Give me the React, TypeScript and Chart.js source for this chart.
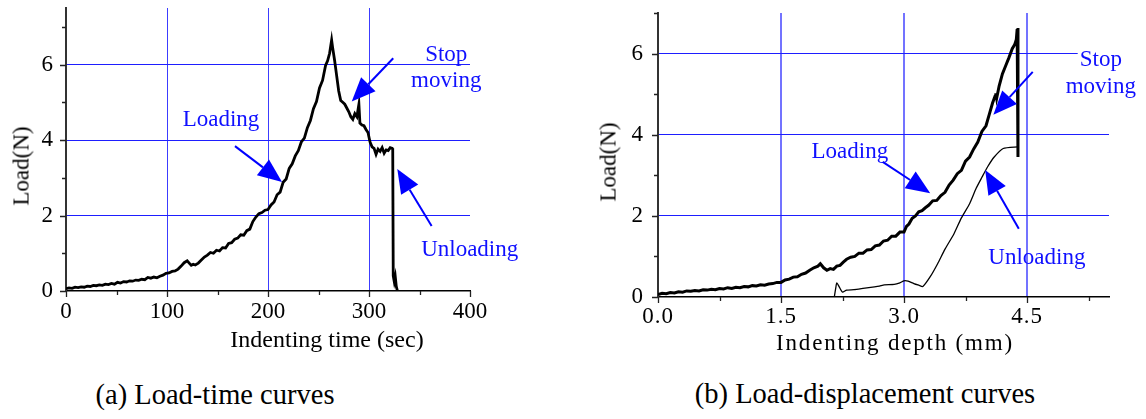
import React, { useEffect, useRef } from 'react';
import { Chart, registerables } from 'chart.js';

Chart.register(...registerables);

const SERIF = '"Liberation Serif", "Times New Roman", serif';

// ---------- (a) Load-time data ----------
const timeSec = [0,3,6,9,12,15,18,21,24,27,30,33,36,39,42,45,48,51,54,57,60,63,66,69,72,75,78,81,84,87,90,93,96,99,102,105,108,111,114,117,120,122,124,126,128,131,134,137,140,143,146,149,152,155,158,161,164,167,170,173,176,179,182,185,188,191,194,197,200,203,206,209,212,215,218,221,224,227,230,233,236,239,242,245,248,251,254,257,259,261,263,264,266,268,270,272,274,276,278,280,282,284,286,288,290,291,293,295,297,299,301,303,305,307,309,311,313,315,317,319,321,323,323.5,324,325,326,327,328];
const loadTime = [0.06,0.08,0.07,0.10,0.09,0.11,0.10,0.13,0.12,0.15,0.14,0.16,0.15,0.18,0.17,0.20,0.18,0.23,0.21,0.25,0.24,0.27,0.26,0.29,0.28,0.31,0.30,0.36,0.34,0.37,0.35,0.39,0.42,0.47,0.48,0.52,0.53,0.58,0.66,0.75,0.80,0.74,0.68,0.71,0.69,0.74,0.82,0.90,0.95,1.02,1.00,1.08,1.06,1.15,1.14,1.26,1.28,1.37,1.40,1.49,1.48,1.60,1.64,1.84,1.96,2.05,2.08,2.14,2.16,2.28,2.36,2.55,2.62,2.88,2.97,3.25,3.37,3.58,3.72,3.95,4.05,4.33,4.52,4.83,5.02,5.38,5.58,5.98,6.10,6.30,6.65,6.45,6.10,5.70,5.30,5.05,5.00,4.95,4.85,4.75,4.62,4.55,4.70,4.62,4.95,4.45,4.40,4.38,4.28,4.20,3.95,3.82,3.78,3.62,3.76,3.70,3.80,3.65,3.74,3.72,3.80,3.78,3.75,0.40,0.25,0.38,0.12,0.02];

// ---------- (b) Load-displacement data ----------
const depthLoad = [0,0.05,0.10,0.15,0.20,0.25,0.30,0.35,0.40,0.45,0.50,0.55,0.60,0.65,0.70,0.75,0.80,0.85,0.90,0.95,1.00,1.05,1.10,1.15,1.20,1.25,1.30,1.35,1.40,1.45,1.50,1.55,1.60,1.65,1.70,1.75,1.80,1.85,1.90,1.95,1.98,2.02,2.06,2.10,2.14,2.18,2.22,2.26,2.30,2.35,2.40,2.45,2.50,2.55,2.60,2.65,2.70,2.75,2.80,2.85,2.90,2.95,3.00,3.03,3.06,3.10,3.14,3.18,3.22,3.26,3.30,3.35,3.40,3.45,3.50,3.55,3.60,3.65,3.70,3.75,3.80,3.85,3.90,3.95,4.00,4.04,4.08,4.11,4.12,4.13,4.16,4.20,4.24,4.28,4.32,4.35,4.37,4.38,4.39,4.39];
const loadLoad = [0.06,0.09,0.08,0.11,0.10,0.13,0.12,0.15,0.14,0.16,0.15,0.18,0.17,0.19,0.18,0.21,0.20,0.23,0.21,0.24,0.23,0.26,0.25,0.28,0.27,0.30,0.29,0.32,0.33,0.36,0.36,0.42,0.44,0.49,0.50,0.56,0.59,0.66,0.72,0.76,0.82,0.72,0.66,0.70,0.68,0.76,0.78,0.86,0.93,0.98,1.00,1.08,1.08,1.16,1.17,1.26,1.28,1.38,1.40,1.50,1.50,1.60,1.60,1.74,1.80,1.94,2.00,2.10,2.13,2.20,2.26,2.37,2.38,2.50,2.58,2.76,2.88,3.04,3.12,3.35,3.45,3.65,3.82,4.08,4.22,4.50,4.78,4.95,5.02,4.90,5.20,5.50,5.70,5.90,6.12,6.22,6.35,6.60,6.63,3.45];
const depthUnload = [4.39,4.21,4.10,4.02,3.95,3.88,3.80,3.70,3.61,3.50,3.41,3.32,3.23,3.18,3.12,3.05,3.00,2.95,2.88,2.76,2.70,2.64,2.50,2.39,2.30,2.25,2.21,2.18,2.17,2.15];
const loadUnload = [3.70,3.66,3.45,3.21,2.95,2.68,2.30,1.95,1.56,1.18,0.82,0.50,0.26,0.29,0.33,0.39,0.40,0.35,0.31,0.30,0.27,0.25,0.21,0.18,0.17,0.12,0.25,0.35,0.25,0.00];

// ---------- axis ticks ----------
const loadTicksMajor = [0, 2, 4, 6];
const timeTicksMajor = [0, 100, 200, 300, 400];
const depthTicksMajor = [0, 1.5, 3.0, 4.5];

// ---------- annotations (data coordinates) ----------
const annTextA = [
  { x: 153.5, y: 4.53, lines: ['Loading'] },
  { x: 376.5, y: 5.91, lines: ['Stop', 'moving'] },
  { x: 399.7, y: 1.09, lines: ['Unloading'] },
];
const annArrowA = [
  { x0: 167.3, y0: 3.84, x1: 213.9, y1: 2.89 },
  { x0: 324, y0: 6.17, x1: 282.9, y1: 5.02 },
  { x0: 362, y0: 1.72, x1: 328, y1: 3.23 },
];
const annTextB = [
  { x: 2.34, y: 3.57, lines: ['Loading'] },
  { x: 5.40, y: 5.51, lines: ['Stop', 'moving'], bg: true },
  { x: 4.62, y: 0.96, lines: ['Unloading'] },
];
const annArrowB = [
  { x0: 2.74, y0: 3.33, x1: 3.32, y1: 2.56 },
  { x0: 4.57, y0: 5.55, x1: 4.09, y1: 4.49 },
  { x0: 4.40, y0: 1.68, x1: 3.99, y1: 3.13 },
];

const BLUE_TXT = '#1010ff';
const near = (v: number, arr: number[]) => arr.some((a) => Math.abs(a - v) < 1e-6);

function tickMarksPlugin(xMajor: number[], yMajor: number[]) {
  return {
    id: 'tickMarks',
    afterDraw(chart: any) {
      const { ctx, chartArea: a } = chart;
      const xs = chart.scales.x;
      const ys = chart.scales.y;
      ctx.save();
      ctx.strokeStyle = '#222';
      ctx.lineWidth = 1.3;
      ctx.beginPath();
      xs.ticks.forEach((t: any) => {
        const px = Math.round(xs.getPixelForValue(t.value)) + 0.5;
        const len = near(t.value, xMajor) ? 6 : 4;
        ctx.moveTo(px, a.bottom);
        ctx.lineTo(px, a.bottom + len);
      });
      ys.ticks.forEach((t: any) => {
        const py = Math.round(ys.getPixelForValue(t.value)) + 0.5;
        const len = near(t.value, yMajor) ? 6 : 4;
        ctx.moveTo(a.left, py);
        ctx.lineTo(a.left - len, py);
      });
      ctx.stroke();
      ctx.restore();
    },
  };
}

function annotationPlugin(texts: any[], arrows: any[], gap: number) {
  return {
    id: 'annot',
    afterDraw(chart: any) {
      const { ctx } = chart;
      const xs = chart.scales.x;
      const ys = chart.scales.y;
      ctx.save();
      ctx.letterSpacing = '0px';
      ctx.font = `23px ${SERIF}`;
      ctx.textAlign = 'center';
      ctx.textBaseline = 'middle';
      texts.forEach((t) => {
        const cx = xs.getPixelForValue(t.x);
        const cy = ys.getPixelForValue(t.y);
        const n = t.lines.length;
        t.lines.forEach((line: string, i: number) => {
          const ly = cy + (i - (n - 1) / 2) * gap;
          if (t.bg) {
            const w = ctx.measureText(line).width;
            ctx.fillStyle = '#fff';
            ctx.fillRect(cx - w / 2 - 2, ly - 12, w + 4, 24);
          }
          ctx.fillStyle = BLUE_TXT;
          ctx.fillText(line, cx, ly);
        });
      });
      arrows.forEach((ar) => {
        const x0 = xs.getPixelForValue(ar.x0);
        const y0 = ys.getPixelForValue(ar.y0);
        const x1 = xs.getPixelForValue(ar.x1);
        const y1 = ys.getPixelForValue(ar.y1);
        const ang = Math.atan2(y1 - y0, x1 - x0);
        const hl = 24;
        const hw = 10;
        const bx = x1 - hl * Math.cos(ang);
        const by = y1 - hl * Math.sin(ang);
        ctx.strokeStyle = '#0000ff';
        ctx.fillStyle = '#0000ff';
        ctx.lineWidth = 2;
        ctx.beginPath();
        ctx.moveTo(x0, y0);
        ctx.lineTo(bx, by);
        ctx.stroke();
        ctx.beginPath();
        ctx.moveTo(x1, y1);
        ctx.lineTo(bx + hw * Math.sin(ang), by - hw * Math.cos(ang));
        ctx.lineTo(bx - hw * Math.sin(ang), by + hw * Math.cos(ang));
        ctx.closePath();
        ctx.fill();
      });
      ctx.restore();
    },
  };
}

function spacingPlugin(spacing: string) {
  return {
    id: 'spacing',
    beforeDraw(chart: any) {
      chart.ctx.letterSpacing = spacing;
    },
  };
}

const tickFont = { family: SERIF, size: 23 };

function makeLeft(canvas: HTMLCanvasElement) {
  const pts = timeSec.map((t, i) => ({ x: t, y: loadTime[i] }));
  return new Chart(canvas, {
    type: 'scatter',
    data: {
      datasets: [
        { data: pts, showLine: true, borderColor: '#000', borderWidth: 2.8, pointRadius: 0, tension: 0 } as any,
      ],
    },
    options: {
      animation: false,
      responsive: false,
      maintainAspectRatio: false,
      events: [],
      layout: { padding: { left: 0, top: 8, right: 103, bottom: 0 } },
      plugins: { legend: { display: false }, tooltip: { enabled: false } },
      scales: {
        x: {
          type: 'linear',
          min: 0,
          max: 400,
          ticks: {
            stepSize: 50,
            autoSkip: false,
            maxRotation: 0,
            includeBounds: false,
            padding: 7,
            font: tickFont,
            color: '#000',
            callback: (v: any) => (near(Number(v), timeTicksMajor) ? String(v) : ''),
          },
          grid: {
            drawTicks: false,
            lineWidth: 1,
            color: (c: any) => (c.tick && near(c.tick.value, [100, 200, 300]) ? 'rgba(50,50,255,0.95)' : 'rgba(0,0,0,0)'),
          },
          border: { color: '#000', width: 1.5 },
          afterFit: (s: any) => {
            s.height = 79;
            s.paddingLeft = 0;
            s.paddingRight = 0;
          },
        },
        y: {
          type: 'linear',
          min: 0,
          max: 7.5,
          ticks: {
            stepSize: 1,
            autoSkip: false,
            includeBounds: false,
            padding: 13,
            font: tickFont,
            color: '#000',
            callback: (v: any) => (near(Number(v), loadTicksMajor) ? String(v) : ''),
          },
          grid: {
            drawTicks: false,
            lineWidth: 1,
            color: (c: any) => (c.tick && near(c.tick.value, [2, 4, 6]) ? 'rgba(30,30,255,1)' : 'rgba(0,0,0,0)'),
          },
          border: { color: '#333', width: 2 },
          afterFit: (s: any) => {
            s.width = 66;
            s.paddingTop = 0;
            s.paddingBottom = 0;
          },
        },
      },
    } as any,
    plugins: [tickMarksPlugin(timeTicksMajor, loadTicksMajor), annotationPlugin(annTextA, annArrowA, 26)] as any,
  });
}

function makeRight(canvas: HTMLCanvasElement) {
  const ptsL = depthLoad.map((d, i) => ({ x: d, y: loadLoad[i] }));
  const ptsU = depthUnload.map((d, i) => ({ x: d, y: loadUnload[i] }));
  return new Chart(canvas, {
    type: 'scatter',
    data: {
      datasets: [
        { data: ptsL, showLine: true, borderColor: '#000', borderWidth: 3, pointRadius: 0, tension: 0 } as any,
        { data: ptsU, showLine: true, borderColor: '#000', borderWidth: 1.3, pointRadius: 0, tension: 0.2 } as any,
      ],
    },
    options: {
      animation: false,
      responsive: false,
      maintainAspectRatio: false,
      events: [],
      layout: { padding: { left: 0, top: 13, right: 37, bottom: 0 } },
      plugins: { legend: { display: false }, tooltip: { enabled: false } },
      scales: {
        x: {
          type: 'linear',
          min: 0,
          max: 5.5,
          ticks: {
            stepSize: 0.75,
            autoSkip: false,
            maxRotation: 0,
            includeBounds: false,
            padding: 6,
            font: tickFont,
            color: '#000',
            callback: (v: any) => (near(Number(v), depthTicksMajor) ? Number(v).toFixed(1) : ''),
          },
          grid: {
            drawTicks: false,
            lineWidth: 2,
            color: (c: any) => (c.tick && near(c.tick.value, [1.5, 3.0, 4.5]) ? 'rgba(100,100,255,0.9)' : 'rgba(0,0,0,0)'),
          },
          border: { color: '#000', width: 1.5 },
          afterFit: (s: any) => {
            s.height = 73;
            s.paddingLeft = 0;
            s.paddingRight = 0;
          },
        },
        y: {
          type: 'linear',
          min: 0,
          max: 7,
          ticks: {
            stepSize: 1,
            autoSkip: false,
            includeBounds: false,
            padding: 14,
            font: tickFont,
            color: '#000',
            callback: (v: any) => (near(Number(v), loadTicksMajor) ? String(v) : ''),
          },
          grid: {
            drawTicks: false,
            lineWidth: 1,
            color: (c: any) => (c.tick && near(c.tick.value, [2, 4, 6]) ? 'rgba(30,30,255,1)' : 'rgba(0,0,0,0)'),
          },
          border: { color: '#333', width: 2 },
          afterFit: (s: any) => {
            s.width = 85;
            s.paddingTop = 0;
            s.paddingBottom = 0;
          },
        },
      },
    } as any,
    plugins: [
      spacingPlugin('1px'),
      tickMarksPlugin(depthTicksMajor, loadTicksMajor),
      annotationPlugin(annTextB, annArrowB, 27),
    ] as any,
  });
}

function Label(props: { x: number; y: number; size: number; text: string; rotate?: boolean; spacing?: number }) {
  const { x, y, size, text, rotate, spacing } = props;
  return (
    <div
      style={{
        position: 'absolute',
        left: x,
        top: y,
        transform: `translate(-50%, -50%)${rotate ? ' rotate(-90deg)' : ''}`,
        fontFamily: SERIF,
        fontSize: size,
        lineHeight: 1,
        whiteSpace: 'nowrap',
        color: '#000',
        letterSpacing: spacing ? `${spacing}px` : undefined,
      }}
    >
      {text}
    </div>
  );
}

export default function App() {
  const leftRef = useRef<HTMLCanvasElement | null>(null);
  const rightRef = useRef<HTMLCanvasElement | null>(null);

  useEffect(() => {
    const c1 = makeLeft(leftRef.current as HTMLCanvasElement);
    const c2 = makeRight(rightRef.current as HTMLCanvasElement);
    return () => {
      c1.destroy();
      c2.destroy();
    };
  }, []);

  return (
    <div style={{ position: 'fixed', left: 0, top: 0, width: 1146, height: 419, background: '#fff', overflow: 'hidden' }}>
      <canvas ref={leftRef} width={573} height={370} style={{ position: 'absolute', left: 0, top: 0, width: 573, height: 370 }} />
      <canvas ref={rightRef} width={573} height={370} style={{ position: 'absolute', left: 573, top: 0, width: 573, height: 370 }} />
      <Label x={21} y={166} size={23} text="Load(N)" rotate />
      <Label x={327} y={339} size={24} text="Indenting time (sec)" />
      <Label x={608} y={162} size={23} text="Load(N)" rotate />
      <Label x={895} y={342} size={23} text="Indenting depth (mm)" spacing={1.8} />
      <Label x={215} y={395} size={28.5} text="(a) Load-time curves" />
      <Label x={865} y={394} size={28.5} text="(b) Load-displacement curves" />
    </div>
  );
}
